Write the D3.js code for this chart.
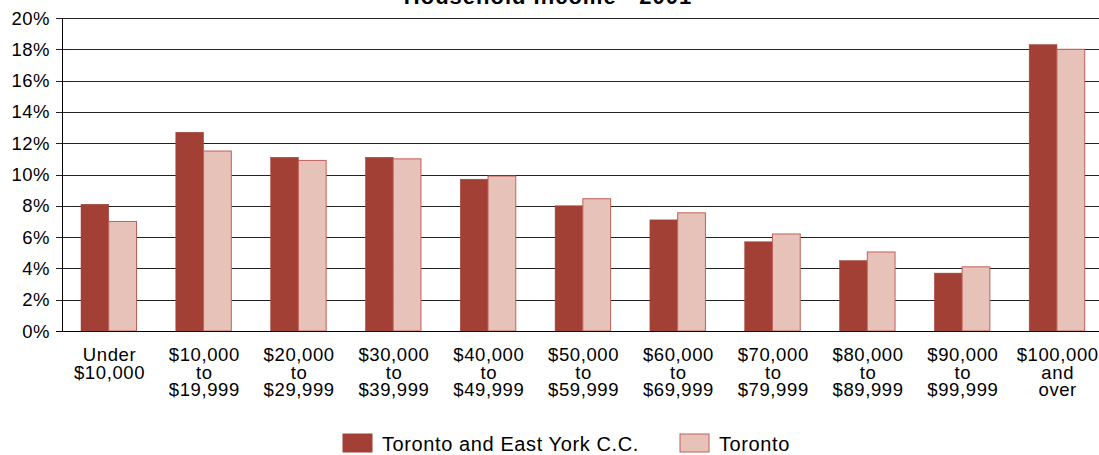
<!DOCTYPE html>
<html>
<head>
<meta charset="utf-8">
<script src="https://cdn.jsdelivr.net/npm/d3@7"></script>
<style>
  body { margin: 0; background: #fff; }
  text { font-family: "Liberation Sans", Arial, sans-serif; fill: #000; }
</style>
</head>
<body>
<div id="chart"></div>
<script>
// data
var categories = [
    ['Under', '$10,000'],
    ['$10,000', 'to', '$19,999'],
    ['$20,000', 'to', '$29,999'],
    ['$30,000', 'to', '$39,999'],
    ['$40,000', 'to', '$49,999'],
    ['$50,000', 'to', '$59,999'],
    ['$60,000', 'to', '$69,999'],
    ['$70,000', 'to', '$79,999'],
    ['$80,000', 'to', '$89,999'],
    ['$90,000', 'to', '$99,999'],
    ['$100,000', 'and', 'over']
];
var seriesNames = ['Toronto and East York C.C.', 'Toronto'];
var eastYork = [8.1, 12.7, 11.1, 11.1, 9.7, 8.0, 7.1, 5.7, 4.5, 3.7, 18.3];
var toronto = [7.0, 11.5, 10.9, 11.0, 9.9, 8.45, 7.55, 6.2, 5.05, 4.1, 18.0];
var yTicks = [0, 2, 4, 6, 8, 10, 12, 14, 16, 18, 20];

var width = 1099, height = 455;
var margin = {top: 18, left: 62, bottom: 124};
var plotW = 1043, plotH = height - margin.top - margin.bottom;

var svg = d3.select('#chart').append('svg')
    .attr('width', width)
    .attr('height', height);

var chart = svg.append('g')
    .attr('transform', `translate(${margin.left}, ${margin.top})`);

var xScale = d3.scaleBand()
    .domain(d3.range(categories.length))
    .range([0, plotW]);
var sub = d3.scaleBand()
    .domain([0, 1])
    .range([19, 19 + 55.5]);
var yScale = d3.scaleLinear()
    .domain([0, 20])
    .range([plotH, 0]);

// gridlines
chart.append('g').selectAll('line')
    .data(yTicks)
    .enter().append('line')
    .attr('x1', -6)
    .attr('x2', plotW)
    .attr('y1', (d) => Math.round(yScale(d)) + 0.5)
    .attr('y2', (d) => Math.round(yScale(d)) + 0.5)
    .attr('stroke', '#222')
    .attr('stroke-width', 1);

// y labels
chart.append('g').selectAll('text')
    .data(yTicks)
    .enter().append('text')
    .attr('x', -12)
    .attr('y', (d) => yScale(d) + 6.5)
    .attr('text-anchor', 'end')
    .attr('font-size', '18.5px')
    .attr('letter-spacing', '0.5px')
    .text((d) => d + '%');

// bars
var colors = ['#a34036', '#e7c2b8'];
var strokes = ['#a34036', '#c0605a'];
var series = [eastYork, toronto];
series.forEach((vals, s) => {
    chart.append('g').selectAll('rect')
        .data(vals)
        .enter().append('rect')
        .attr('x', (d, i) => xScale(i) + sub(s))
        .attr('y', (d) => yScale(d))
        .attr('width', sub.bandwidth())
        .attr('height', (d) => plotH - yScale(d))
        .attr('fill', colors[s])
        .attr('stroke', strokes[s])
        .attr('stroke-width', s == 1 ? 1 : 0.5);
});

// axis lines
chart.append('line')
    .attr('x1', 0.5).attr('x2', 0.5)
    .attr('y1', 0).attr('y2', plotH)
    .attr('stroke', '#000');
chart.append('line')
    .attr('x1', -6).attr('x2', plotW)
    .attr('y1', plotH + 0.5).attr('y2', plotH + 0.5)
    .attr('stroke', '#000');

// x labels
var xl = chart.append('g').selectAll('text')
    .data(categories)
    .enter().append('text')
    .attr('text-anchor', 'middle')
    .attr('font-size', '18.5px')
    .attr('letter-spacing', '0.6px')
    .attr('transform', (d, i) => `translate(${xScale(i) + 47.5}, ${plotH + 30})`);
xl.selectAll('tspan')
    .data((d) => d)
    .enter().append('tspan')
    .attr('x', 0)
    .attr('y', (d, j) => j * 17.5)
    .text((d) => d);

// title
svg.append('text')
    .attr('x', 548)
    .attr('y', 4)
    .attr('text-anchor', 'middle')
    .attr('font-size', '22px')
    .attr('font-weight', 'bold')
    .attr('letter-spacing', '1px')
    .text('Household Income - 2001');

// legend
var legendX = [343, 680];
var legend = svg.append('g').selectAll('g')
    .data(seriesNames)
    .enter().append('g')
    .attr('transform', (d, i) => `translate(${legendX[i]}, 434)`);
legend.append('rect')
    .attr('width', 29)
    .attr('height', 18)
    .attr('fill', (d, i) => colors[i])
    .attr('stroke', (d, i) => strokes[i]);
legend.append('text')
    .attr('x', 39)
    .attr('y', 17)
    .attr('font-size', '20px')
    .attr('letter-spacing', '0.6px')
    .text((d) => d);
</script>
</body>
</html>
